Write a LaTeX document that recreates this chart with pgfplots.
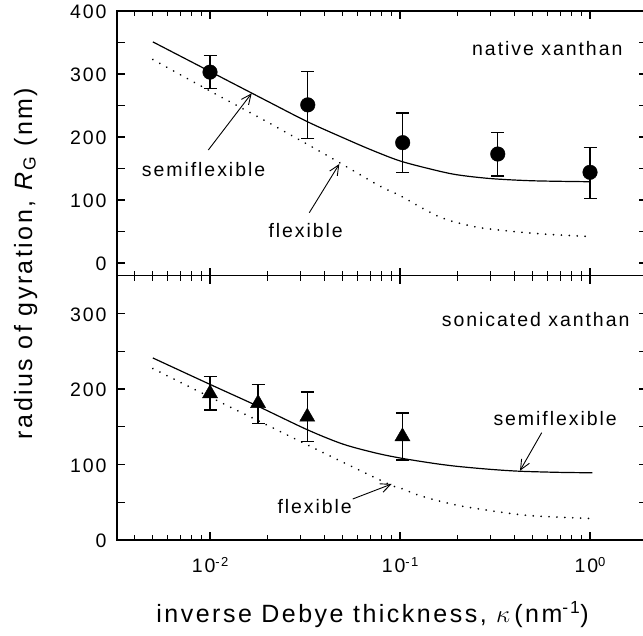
\documentclass[border=0pt]{standalone}
\usepackage{pgfplots}
\pgfplotsset{compat=1.18}
\usepackage{pgfplotstable}
\usepackage{fontspec}
\setmainfont[LetterSpace=10]{Liberation Sans}
\usetikzlibrary{arrows.meta}

% ---------- data ----------
\pgfplotstableread{
x y ep em
0.01   303 27 26
0.0327 251 53 54
0.1033 191 47 47
0.327  173 34 35
1.0    144 39 41
}\nativedata
\pgfplotstableread{
x y
0.005  351
0.01   304
0.02   257
0.0327 224
0.05   199
0.07   180
0.1    162
0.15   148
0.2    140
0.3    134
0.5    130.5
1.0    129
}\nativesemi
\pgfplotstableread{
x y
0.005  323
0.01   273
0.02   224
0.0327 188
0.047  161
0.0785 122
0.1    107
0.133  86
0.162  73
0.2    64
0.264  56
0.395  50
0.6    45.5
1.0    42
}\nativeflex
\pgfplotstableread{
x y ep em
0.01   194 22 22
0.0179 181 25 27
0.0325 163 33 33
0.103  137 31 31
}\sonicdata
\pgfplotstableread{
x y
0.005  241
0.01   206
0.0179 177
0.0325 146
0.05   127
0.075  115
0.103  108
0.15   101.5
0.2    97.5
0.3    93.5
0.43   91
0.7    89.5
1.03   89
}\sonicsemi
\pgfplotstableread{
x y
0.005  227
0.0106 186
0.0179 158
0.0325 126
0.05   103
0.089  73
0.1    69
0.13   58
0.2    46
0.336  37
0.5    32
1.0    28.5
}\sonicflex

\newcommand{\tsup}[1]{\raisebox{6pt}{\fontsize{13}{13}\selectfont #1}}

\begin{document}
\begin{tikzpicture}
% top panel: native xanthan
\begin{axis}[
  scale only axis, width=530.2pt, height=264.6pt,
  xmode=log, xmin=0.003239, xmax=2,
  ymin=-20, ymax=400, ytick={0,50,...,400},
  yticklabels={0,,100,,200,,300,,400},
  xtick={0.01,0.1,1}, xticklabels={},
  minor xtick={0.004,0.005,0.006,0.007,0.008,0.009,0.02,0.03,0.04,0.05,0.06,0.07,0.08,0.09,0.2,0.3,0.4,0.5,0.6,0.7,0.8,0.9,2},
  tick align=inside, tick pos=both,
  axis line style={line width=1.4pt},
  every tick/.style={black, line width=1.2pt},
  major tick length=8pt, minor tick length=5pt,
  tick label style={font=\fontsize{19.5}{21}\selectfont},
  yticklabel style={xshift=-7pt, yshift=-1pt},
  /pgf/number format/assume math mode=true,
  at={(117pt,-11pt)}, anchor=north west]
\addplot[black, line width=1.2pt, smooth, no marks] table[x=x,y=y]{\nativesemi};
\addplot[black, line width=1.9pt, smooth, no marks, line cap=round, dash pattern=on 0.01pt off 7.9pt] table[x=x,y=y]{\nativeflex};
\addplot[black, only marks, mark=*, mark size=7.3pt, mark options={fill=black},
  error bars/.cd, y dir=both, y explicit,
  error bar style={line width=1.2pt, black},
  error mark options={rotate=90, mark size=6.5pt, line width=1.2pt, black}]
  table[x=x,y=y,y error plus=ep,y error minus=em]{\nativedata};
\end{axis}
% bottom panel: sonicated xanthan
\begin{axis}[
  scale only axis, width=530.2pt, height=264.4pt,
  xmode=log, xmin=0.003239, xmax=2,
  ymin=0, ymax=350, ytick={0,50,...,350},
  yticklabels={0,,100,,200,,300,},
  xtick={0.01,0.1,1},
  xticklabels={10\tsup{-2},10\tsup{-1},10\tsup{0}},
  minor xtick={0.004,0.005,0.006,0.007,0.008,0.009,0.02,0.03,0.04,0.05,0.06,0.07,0.08,0.09,0.2,0.3,0.4,0.5,0.6,0.7,0.8,0.9,2},
  tick align=inside, tick pos=both,
  axis line style={line width=1.4pt},
  every tick/.style={black, line width=1.2pt},
  major tick length=8pt, minor tick length=5pt,
  tick label style={font=\fontsize{19.5}{21}\selectfont},
  yticklabel style={xshift=-7pt, yshift=-1pt},
  xticklabel style={anchor=base, yshift=-32.7pt},
  /pgf/number format/assume math mode=true,
  at={(117pt,-275.6pt)}, anchor=north west]
\addplot[black, line width=1.2pt, smooth, no marks] table[x=x,y=y]{\sonicsemi};
\addplot[black, line width=1.9pt, smooth, no marks, line cap=round, dash pattern=on 0.01pt off 7.9pt] table[x=x,y=y]{\sonicflex};
\addplot[black, only marks, mark=triangle*, mark size=8.7pt, mark options={fill=black},
  error bars/.cd, y dir=both, y explicit,
  error bar style={line width=1.2pt, black},
  error mark options={rotate=90, mark size=6.5pt, line width=1.2pt, black}]
  table[x=x,y=y,y error plus=ep,y error minus=em]{\sonicdata};
\end{axis}

% annotations
\begin{scope}[font=\fontsize{19.5}{21}\selectfont]
\node[anchor=base west, inner sep=0] at (472pt,-55pt) {native xanthan};
\node[anchor=base west, inner sep=0] at (141.7pt,-176pt) {semiflexible};
\node[anchor=base west, inner sep=0] at (268.3pt,-237.3pt) {flexible};
\node[anchor=base west, inner sep=0] at (441.7pt,-326.7pt) {sonicated xanthan};
\node[anchor=base west, inner sep=0] at (493.3pt,-425.7pt) {semiflexible};
\node[anchor=base west, inner sep=0] at (277.3pt,-513.3pt) {flexible};
\end{scope}
\begin{scope}[line width=0.9pt, -{Straight Barb[length=10pt,width=9pt,line width=0.9pt]}]
\draw (208.3pt,-150pt) -- (251.7pt,-93.3pt);
\draw (309.3pt,-212.7pt) -- (339.3pt,-164pt);
\draw (541.7pt,-432.7pt) -- (520pt,-470.7pt);
\draw (352.7pt,-499pt) -- (391.7pt,-484pt);
\end{scope}

% axis titles
\node[anchor=base, inner sep=0, font=\fontsize{25}{27}\selectfont] at (372.5pt,-622.7pt)
  {inverse Debye thickness, $\kappa$\,(nm\textsuperscript{-1})};
\node[rotate=90, anchor=base, inner sep=0, font=\fontsize{25}{27}\selectfont] at (32pt,-263.5pt)
  {radius of gyration, \textit{R}\textsubscript{G} (nm)};

\pgfresetboundingbox
\path[use as bounding box] (0pt,0pt) rectangle (643pt,-635pt);
\end{tikzpicture}
\end{document}
